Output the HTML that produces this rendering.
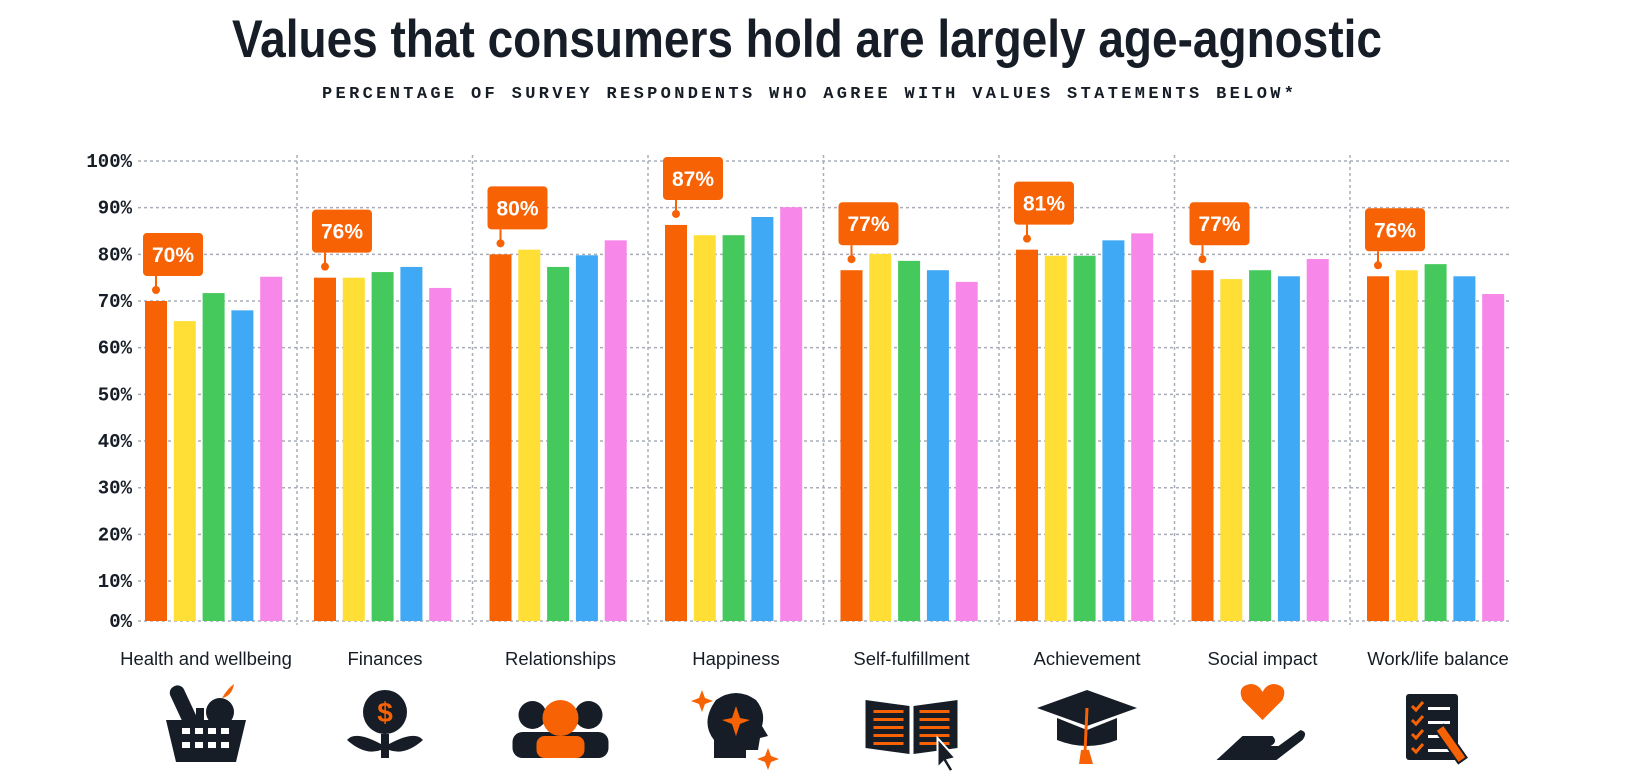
<!DOCTYPE html>
<html><head><meta charset="utf-8"><style>
html,body{margin:0;padding:0;background:#fff;}
svg{display:block;}
</style></head><body>
<svg id="chart" width="1638" height="780" viewBox="0 0 1638 780" xmlns="http://www.w3.org/2000/svg">
<text x="232" y="57" font-family="Liberation Sans, sans-serif" font-weight="bold" font-size="53" fill="#161d26" textLength="1150" lengthAdjust="spacingAndGlyphs">Values that consumers hold are largely age-agnostic</text>
<text x="322" y="98" font-family="Liberation Mono, monospace" font-weight="bold" font-size="17" fill="#161d26" textLength="972" lengthAdjust="spacing">PERCENTAGE OF SURVEY RESPONDENTS WHO AGREE WITH VALUES STATEMENTS BELOW*</text>
<g id="grid"></g><g id="bars"></g><g id="callouts"></g><g id="labels"></g><g id="icons"></g>
</svg>
<script>
const categories = ["Health and wellbeing","Finances","Relationships","Happiness","Self-fulfillment","Achievement","Social impact","Work/life balance"];
const seriesA = [70, 75, 80, 86.3, 76.6, 81, 76.6, 75.3];
const seriesB = [65.7, 75, 81, 84.1, 80.1, 79.7, 74.7, 76.6];
const seriesC = [71.7, 76.2, 77.3, 84.1, 78.6, 79.7, 76.6, 77.9];
const seriesD = [68, 77.3, 79.8, 88, 76.6, 83, 75.3, 75.3];
const seriesE = [75.2, 72.8, 83, 90.1, 74.1, 84.5, 79, 71.5];
const calloutLabels = ["70%","76%","80%","87%","77%","81%","77%","76%"];
const yTicks = [0,10,20,30,40,50,60,70,80,90,100];
const colors = ["#f76204","#ffdf35","#45c95c","#3fa9f5","#f787e8"];
const NS = "http://www.w3.org/2000/svg";
function y(v){ return 627.7 - 4.667*v; }
const y0 = 621;
function groupStart(i){ return i===0 ? 145 : 297 + 175.5*(i-1) + 17; }
function mk(tag, attrs, parent){ const e=document.createElementNS(NS,tag); for(const k in attrs) e.setAttribute(k,attrs[k]); parent.appendChild(e); return e; }
const grid=document.getElementById('grid');
yTicks.forEach(t=>{
  const yy = t===0 ? y0 : y(t);
  const l=mk('line',{x1:138,x2:1512,y1:yy,y2:yy,stroke:'#a9adb8','stroke-width':1.5,'stroke-dasharray':'3,3'},grid);
  
  
  const tx=mk('text',{x:132,y:yy+6,'text-anchor':'end','font-family':'Liberation Mono, monospace','font-weight':'bold','font-size':19,fill:'#161d26'},grid);
  tx.textContent=t+'%';
  
  
});
for(let i=1;i<categories.length;i++){
  const x=297+175.5*(i-1);
  const l=mk('line',{x1:x,x2:x,y1:155,y2:625,stroke:'#a9adb8','stroke-width':1.5,'stroke-dasharray':'3,3'},grid);
  
  
}
const series=[seriesA,seriesB,seriesC,seriesD,seriesE];
const bars=document.getElementById('bars'), call=document.getElementById('callouts'), labs=document.getElementById('labels');
categories.forEach((c,i)=>{
  const gs=groupStart(i);
  series.forEach((s,j)=>{
    const top=y(s[i]);
    const r=mk('rect',{x:gs+j*28.8,y:top,width:22,height:y0-top,fill:colors[j]},bars);
    
    
  });
  const cx=gs+11, top=y(seriesA[i]);
  const dotY=top-11;
  const g=mk('g',{},call);
  
  
  mk('line',{x1:cx,x2:cx,y1:dotY,y2:dotY-14,stroke:'#f76204','stroke-width':2},g);
  mk('circle',{cx:cx,cy:dotY,r:4,fill:'#f76204'},g);
  mk('rect',{x:cx-13,y:dotY-57,width:60,height:43,rx:4,fill:'#f76204'},g);
  const t=mk('text',{x:cx+17,y:dotY-28,'text-anchor':'middle','font-family':'Liberation Sans, sans-serif','font-weight':'bold','font-size':21,fill:'#fff'},g);
  t.textContent=calloutLabels[i];
  const center = i===0 ? 206 : 297+175.5*(i-1)+88;
  const cl=mk('text',{x:center,y:665,'text-anchor':'middle','font-family':'Liberation Sans, sans-serif','font-size':18.5,fill:'#161d26'},labs);
  cl.textContent=c;
  
  
  const ic=mk('g',{transform:'translate('+center+',730)'},document.getElementById('icons'));
  
  
  const D='#161d26',O='#f76204';
  if(i===0){mk('rect',{x:-30,y:-46,width:15,height:44,rx:7,fill:D,transform:'rotate(-25 -22 -24)'},ic);mk('rect',{x:-10,y:-22,width:8,height:14,fill:D},ic);mk('circle',{cx:14,cy:-18,r:14,fill:D},ic);mk('path',{d:'M16,-32 q6,-10 12,-14 q-2,12 -12,14z',fill:O},ic);mk('path',{d:'M-40,-10 L40,-10 L30,32 L-30,32 Z',fill:D},ic);for(let r=0;r<2;r++)for(let k=0;k<4;k++)mk('rect',{x:-24+k*13,y:-2+r*14,width:8,height:6,fill:'#fff'},ic);}
  else if(i===1){mk('circle',{cx:0,cy:-18,r:22,fill:D},ic);mk('text',{x:0,y:-8,'text-anchor':'middle','font-family':'Liberation Sans, sans-serif','font-weight':'bold','font-size':28,fill:O},ic).textContent='$';mk('rect',{x:-4,y:4,width:8,height:24,fill:D},ic);mk('path',{d:'M-4,14 Q-30,0 -38,10 Q-20,26 -4,20Z M4,14 Q30,0 38,10 Q20,26 4,20Z',fill:D},ic);}
  else if(i===2){mk('circle',{cx:-28,cy:-15,r:14,fill:D},ic);mk('circle',{cx:28,cy:-15,r:14,fill:D},ic);mk('rect',{x:-48,y:2,width:96,height:26,rx:10,fill:D},ic);mk('circle',{cx:0,cy:-12,r:18,fill:O},ic);mk('rect',{x:-24,y:6,width:48,height:22,rx:8,fill:O},ic);}
  else if(i===3){mk('path',{d:'M-22,28 L-22,10 Q-36,-8 -20,-30 Q0,-44 20,-30 Q30,-18 26,-4 L32,6 L24,8 L22,20 L10,20 L10,28Z',fill:D},ic);mk('path',{d:'M0,-24 L4,-12 L14,-10 L4,-6 L0,6 L-4,-6 L-14,-10 L-4,-12Z',fill:O},ic);mk('path',{d:'M-34,-40 l3,8 8,3 -8,3 -3,8 -3,-8 -8,-3 8,-3z M32,18 l3,8 8,3 -8,3 -3,8 -3,-8 -8,-3 8,-3z',fill:O},ic);}
  else if(i===4){mk('path',{d:'M-46,-30 L-2,-24 L-2,24 L-46,18Z M2,-24 L46,-30 L46,18 L2,24Z',fill:D},ic);for(let k=0;k<5;k++){mk('rect',{x:-38,y:-20+k*8,width:30,height:3,fill:O},ic);mk('rect',{x:8,y:-20+k*8,width:30,height:3,fill:O},ic);}mk('path',{d:'M26,8 L26,38 L32,32 L38,42 L42,40 L36,30 L44,28Z',fill:D,stroke:'#fff','stroke-width':2},ic);}
  else if(i===5){mk('path',{d:'M-50,-22 L0,-40 L50,-22 L0,-4Z',fill:D},ic);mk('path',{d:'M-30,-12 L-30,10 Q0,22 30,10 L30,-12 L0,0Z',fill:D},ic);mk('line',{x1:0,y1:-22,x2:-2,y2:22,stroke:O,'stroke-width':3},ic);mk('path',{d:'M-6,20 L2,20 L6,34 L-8,34Z',fill:O},ic);}
  else if(i===6){mk('path',{d:'M0,-10 L-20,-30 Q-26,-44 -12,-46 Q-4,-46 0,-38 Q4,-46 12,-46 Q26,-44 20,-30Z',fill:O},ic);mk('path',{d:'M-46,30 L-20,6 L10,6 Q16,12 8,16 L-4,16 L16,16 L38,0 Q46,2 40,10 L14,30Z',fill:D},ic);}
  else {mk('rect',{x:-32,y:-36,width:52,height:66,rx:3,fill:D},ic);for(let k=0;k<4;k++){mk('path',{d:'M-26,'+(-24+k*14)+' l4,4 7,-8',stroke:O,'stroke-width':3,fill:'none'},ic);mk('rect',{x:-10,y:-23+k*14,width:22,height:3,fill:'#fff'},ic);}mk('rect',{x:8,y:-6,width:10,height:40,fill:O,stroke:D,'stroke-width':2,transform:'rotate(-35 13 14)'},ic);}
});
</script>
</body></html>
